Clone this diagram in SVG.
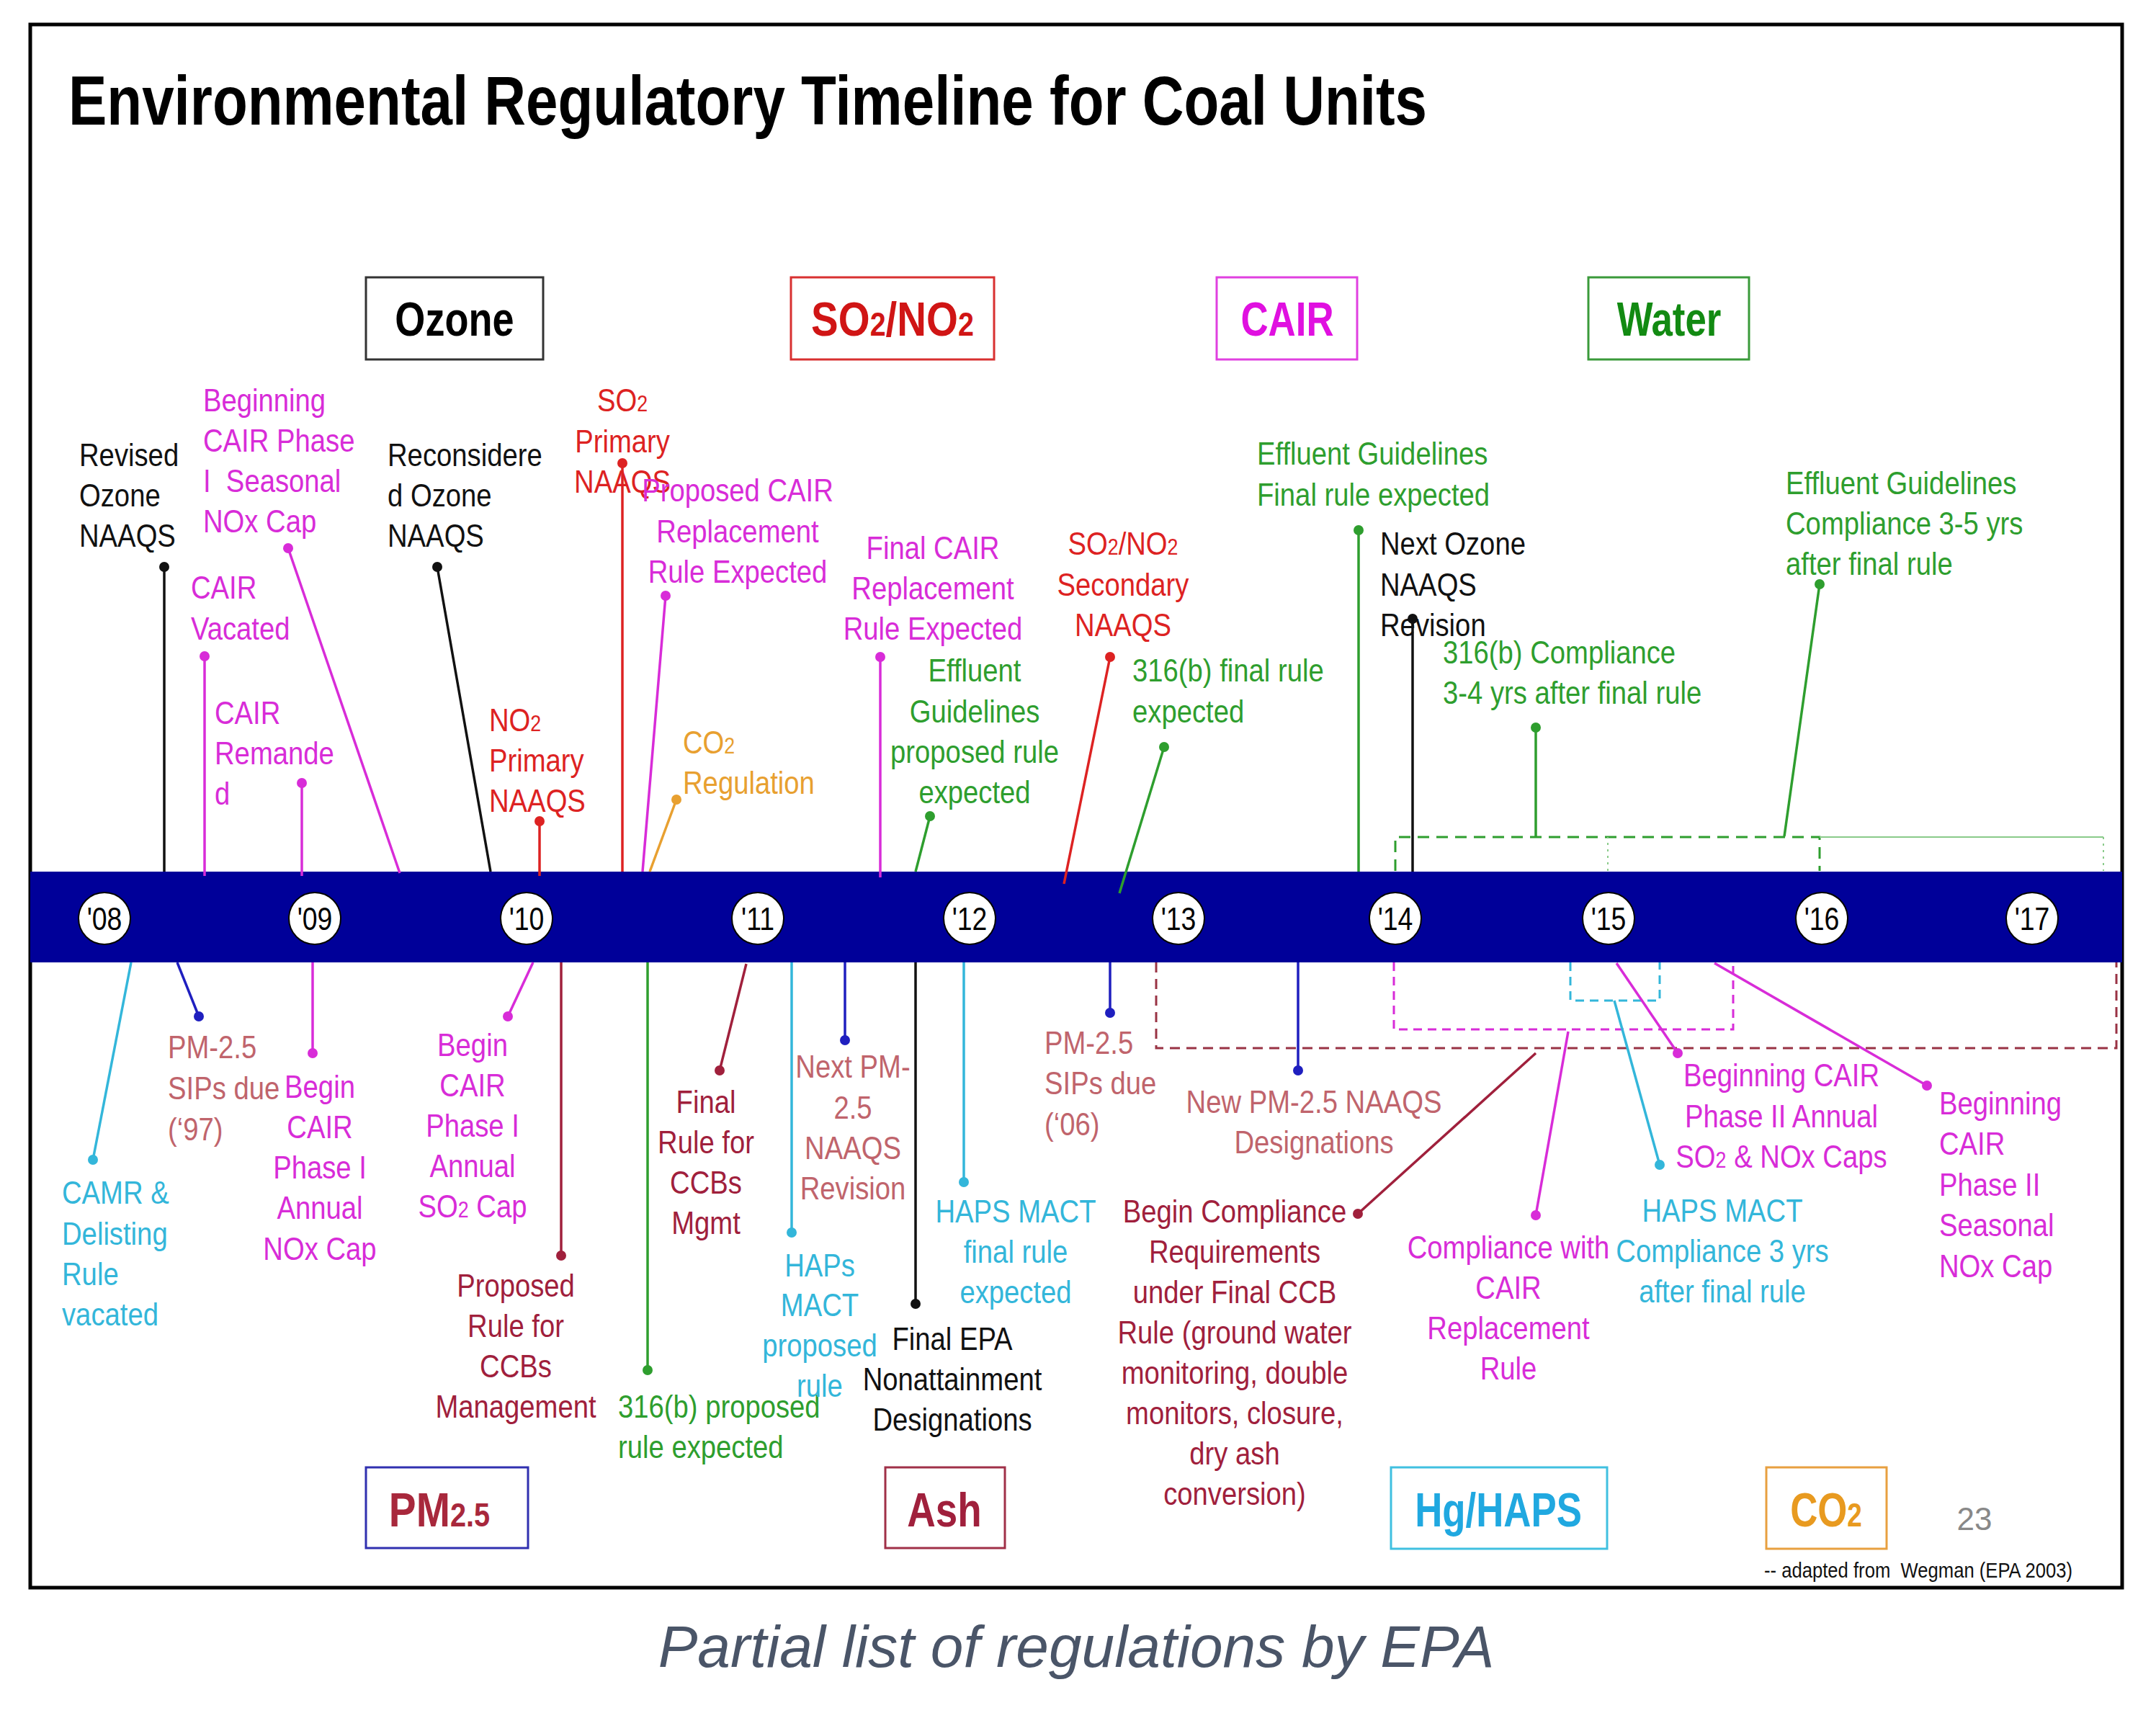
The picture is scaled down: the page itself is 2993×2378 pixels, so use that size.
<svg xmlns="http://www.w3.org/2000/svg" width="2993" height="2378" viewBox="0 0 2993 2378">
<style>
text{font-family:'Liberation Sans',Arial,sans-serif;font-size:45px}
.c{text-anchor:middle}
.k{fill:#111}.m{fill:#D82CD8}.r{fill:#DD2222}.g{fill:#2E9E2E}.o{fill:#E8A030}.cy{fill:#33B6DA}.mr{fill:#A0203C}.rs{fill:#C0646C}
.cat{font-weight:bold;font-size:66px;text-anchor:middle}
.yr{font-size:44px;text-anchor:middle;fill:#000}
.sub{font-size:70%}
#connectors path{fill:none;stroke-width:3.5}
.sk{stroke:#111}.sm{stroke:#D82CD8}.sr{stroke:#DD2222}.sg{stroke:#2E9E2E}.so{stroke:#E8A030}.scy{stroke:#33B6DA}.smr{stroke:#A0203C}.sb{stroke:#1F1FBF}
.box{fill:#fff;stroke-width:3}
</style>
<rect x="0" y="0" width="2993" height="2378" fill="#fff"/>
<rect x="42" y="34" width="2904" height="2170" fill="#fff" stroke="#000" stroke-width="5"/>
<text x="95" y="173" style="font-size:96px;font-weight:bold" textLength="1886" lengthAdjust="spacingAndGlyphs" fill="#000">Environmental Regulatory Timeline for Coal Units</text>

<g id="timeline">
<rect x="42" y="1210" width="2904" height="126" fill="#000099"/>
<g stroke="#000" stroke-width="2" fill="#fff">
<circle cx="145" cy="1275" r="36"/><circle cx="437" cy="1275" r="36"/><circle cx="731" cy="1275" r="36"/><circle cx="1052" cy="1275" r="36"/><circle cx="1346" cy="1275" r="36"/><circle cx="1636" cy="1275" r="36"/><circle cx="1937" cy="1275" r="36"/><circle cx="2233" cy="1275" r="36"/><circle cx="2529" cy="1275" r="36"/><circle cx="2821" cy="1275" r="36"/>
</g>
<text class="yr" transform="translate(145 0) scale(.85 1)" y="1291">'08</text>
<text class="yr" transform="translate(437 0) scale(.85 1)" y="1291">'09</text>
<text class="yr" transform="translate(731 0) scale(.85 1)" y="1291">'10</text>
<text class="yr" transform="translate(1052 0) scale(.85 1)" y="1291">'11</text>
<text class="yr" transform="translate(1346 0) scale(.85 1)" y="1291">'12</text>
<text class="yr" transform="translate(1636 0) scale(.85 1)" y="1291">'13</text>
<text class="yr" transform="translate(1937 0) scale(.85 1)" y="1291">'14</text>
<text class="yr" transform="translate(2233 0) scale(.85 1)" y="1291">'15</text>
<text class="yr" transform="translate(2529 0) scale(.85 1)" y="1291">'16</text>
<text class="yr" transform="translate(2821 0) scale(.85 1)" y="1291">'17</text>
</g>

<g id="categories">
<g id="cat-ozone"><rect class="box" x="508" y="385" width="246" height="114" stroke="#333"/><text class="cat" transform="translate(631 0) scale(.82 1)" x="0" y="466" fill="#000">Ozone</text></g>
<g id="cat-so2"><rect class="box" x="1098" y="385" width="282" height="114" stroke="#D83030"/><text class="cat" transform="translate(1239 0) scale(.855 1)" x="0" y="466" fill="#D01515">SO<tspan class="sub">2</tspan>/NO<tspan class="sub">2</tspan></text></g>
<g id="cat-cair"><rect class="box" x="1689" y="385" width="195" height="114" stroke="#E040E0"/><text class="cat" transform="translate(1787 0) scale(.8 1)" x="0" y="466" fill="#E010E0">CAIR</text></g>
<g id="cat-water"><rect class="box" x="2205" y="385" width="223" height="114" stroke="#3A9A3A"/><text class="cat" transform="translate(2317 0) scale(.8 1)" x="0" y="466" fill="#128A12">Water</text></g>
<g id="cat-pm"><rect class="box" x="508" y="2037" width="225" height="112" stroke="#3030B0"/><text class="cat" transform="translate(610 0) scale(.86 1)" x="0" y="2119" fill="#A8283C">PM<tspan class="sub">2.5</tspan></text></g>
<g id="cat-ash"><rect class="box" x="1229" y="2037" width="166" height="112" stroke="#A03048"/><text class="cat" transform="translate(1311 0) scale(.83 1)" x="0" y="2119" fill="#A0203C">Ash</text></g>
<g id="cat-hg"><rect class="box" x="1931" y="2037" width="300" height="113" stroke="#40C0E0"/><text class="cat" transform="translate(2080 0) scale(.8 1)" x="0" y="2119" fill="#20A8E0">Hg/HAPS</text></g>
<g id="cat-co2"><rect class="box" x="2452" y="2037" width="167" height="113" stroke="#E8A040"/><text class="cat" transform="translate(2535 0) scale(.8 1)" x="0" y="2119" fill="#E89A20">CO<tspan class="sub">2</tspan></text></g>
</g>

<g id="connectors">
<path class="sg" d="M1937,1209 V1162 H2526 V1209" stroke-dasharray="16 10" style="stroke-width:3"/>
<path d="M2526,1162 H2920" stroke="#8ACB8A" style="stroke-width:2"/>
<path d="M2232,1209 V1162 M2920,1162 V1209" stroke="#8ACB8A" style="stroke-width:2" stroke-dasharray="3 6"/>
<path d="M1605,1336 V1455 H2938 V1336" stroke="#993344" style="stroke-width:3" stroke-dasharray="14 9"/>
<path d="M1935,1336 V1429 H2406 V1336" class="sm" style="stroke-width:3" stroke-dasharray="12 8"/>
<path d="M2180,1336 V1389 H2304 V1336" class="scy" style="stroke-width:3" stroke-dasharray="12 8"/>
<path class="sk" d="M228,787 V1210"/>
<path class="sm" d="M400,761 L555,1212"/>
<path class="sm" d="M284,911 V1216"/>
<path class="sm" d="M419,1087 V1216"/>
<path class="sk" d="M607,787 L681,1210"/>
<path class="sr" d="M749,1140 V1216"/>
<path class="sr" d="M864,643 V1210"/>
<path class="sm" d="M924,827 L892,1210"/>
<path class="so" d="M939,1110 L902,1210"/>
<path class="sm" d="M1222,912 V1218"/>
<path class="sg" d="M1291,1133 L1271,1210"/>
<path class="sr" d="M1541,912 L1477,1227"/>
<path class="sg" d="M1616,1037 L1554,1240"/>
<path class="sg" d="M1886,736 V1210"/>
<path class="sk" d="M1961,859 V1210"/>
<path class="sg" d="M2132,1010 V1162"/>
<path class="sg" d="M2526,811 L2477,1161"/>
<path class="scy" d="M182,1336 L129,1610"/>
<path class="sb" d="M246,1336 L276,1411"/>
<path class="sm" d="M434,1336 V1462"/>
<path class="sm" d="M740,1336 L705,1411"/>
<path class="smr" d="M779,1336 V1743"/>
<path class="sg" d="M899,1336 V1902"/>
<path class="smr" d="M1036,1338 L999,1486"/>
<path class="scy" d="M1099,1336 V1711"/>
<path class="sb" d="M1173,1336 V1444"/>
<path class="sk" d="M1271,1336 V1810"/>
<path class="scy" d="M1338,1336 V1641"/>
<path class="sb" d="M1541,1336 V1406"/>
<path class="sb" d="M1802,1336 V1486"/>
<path class="smr" d="M1885,1685 L2132,1462"/>
<path class="sm" d="M2132,1687 L2177,1432"/>
<path class="scy" d="M2304,1617 L2241,1389"/>
<path class="sm" d="M2329,1462 L2244,1337"/>
<path class="sm" d="M2675,1507 L2380,1337"/>
</g>

<g id="n-revised-ozone"><text class="k" transform="translate(110 0) scale(.85 1)" y="647"><tspan x="0">Revised</tspan><tspan x="0" dy="56">Ozone</tspan><tspan x="0" dy="56">NAAQS</tspan></text><circle cx="228" cy="787" r="7" fill="#111"/></g>
<g id="n-cair-phase1-seasonal"><text class="m" transform="translate(282 0) scale(.85 1)" y="571"><tspan x="0">Beginning</tspan><tspan x="0" dy="56">CAIR Phase</tspan><tspan x="0" dy="56">I&#160; Seasonal</tspan><tspan x="0" dy="56">NOx Cap</tspan></text><circle cx="400" cy="761" r="7" fill="#D82CD8"/></g>
<g id="n-cair-vacated"><text class="m" transform="translate(265 0) scale(.85 1)" y="831"><tspan x="0">CAIR</tspan><tspan x="0" dy="57">Vacated</tspan></text><circle cx="284" cy="911" r="7" fill="#D82CD8"/></g>
<g id="n-cair-remanded"><text class="m" transform="translate(298 0) scale(.85 1)" y="1005"><tspan x="0">CAIR</tspan><tspan x="0" dy="56">Remande</tspan><tspan x="0" dy="56">d</tspan></text><circle cx="419" cy="1087" r="7" fill="#D82CD8"/></g>
<g id="n-reconsidered-ozone"><text class="k" transform="translate(538 0) scale(.85 1)" y="647"><tspan x="0">Reconsidere</tspan><tspan x="0" dy="56">d Ozone</tspan><tspan x="0" dy="56">NAAQS</tspan></text><circle cx="607" cy="787" r="7" fill="#111"/></g>
<g id="n-no2-primary"><text class="r" transform="translate(679 0) scale(.85 1)" y="1015"><tspan x="0">NO<tspan class="sub">2</tspan></tspan><tspan x="0" dy="56">Primary</tspan><tspan x="0" dy="56">NAAQS</tspan></text><circle cx="749" cy="1140" r="7" fill="#DD2222"/></g>
<g id="n-so2-primary"><text class="r c" transform="translate(864 0) scale(.85 1)" y="571"><tspan x="0">SO<tspan class="sub">2</tspan></tspan><tspan x="0" dy="57">Primary</tspan><tspan x="0" dy="56">NAAQS</tspan></text><circle cx="864" cy="643" r="7" fill="#DD2222"/></g>
<g id="n-proposed-cair"><text class="m c" transform="translate(1024 0) scale(.85 1)" y="696"><tspan x="0">Proposed CAIR</tspan><tspan x="0" dy="57">Replacement</tspan><tspan x="0" dy="56">Rule Expected</tspan></text><circle cx="924" cy="827" r="7" fill="#D82CD8"/></g>
<g id="n-co2-regulation"><text class="o" transform="translate(948 0) scale(.85 1)" y="1046"><tspan x="0">CO<tspan class="sub">2</tspan></tspan><tspan x="0" dy="56">Regulation</tspan></text><circle cx="939" cy="1110" r="7" fill="#E8A030"/></g>
<g id="n-final-cair"><text class="m c" transform="translate(1295 0) scale(.85 1)" y="776"><tspan x="0">Final CAIR</tspan><tspan x="0" dy="56">Replacement</tspan><tspan x="0" dy="56">Rule Expected</tspan></text><circle cx="1222" cy="912" r="7" fill="#D82CD8"/></g>
<g id="n-effluent-proposed"><text class="g c" transform="translate(1353 0) scale(.85 1)" y="946"><tspan x="0">Effluent</tspan><tspan x="0" dy="57">Guidelines</tspan><tspan x="0" dy="56">proposed rule</tspan><tspan x="0" dy="56">expected</tspan></text><circle cx="1291" cy="1133" r="7" fill="#2E9E2E"/></g>
<g id="n-so2no2-secondary"><text class="r c" transform="translate(1559 0) scale(.85 1)" y="770"><tspan x="0">SO<tspan class="sub">2</tspan>/NO<tspan class="sub">2</tspan></tspan><tspan x="0" dy="57">Secondary</tspan><tspan x="0" dy="56">NAAQS</tspan></text><circle cx="1541" cy="912" r="7" fill="#DD2222"/></g>
<g id="n-316b-final"><text class="g" transform="translate(1572 0) scale(.85 1)" y="946"><tspan x="0">316(b) final rule</tspan><tspan x="0" dy="57">expected</tspan></text><circle cx="1616" cy="1037" r="7" fill="#2E9E2E"/></g>
<g id="n-effluent-final"><text class="g" transform="translate(1745 0) scale(.85 1)" y="645"><tspan x="0">Effluent Guidelines</tspan><tspan x="0" dy="57">Final rule expected</tspan></text><circle cx="1886" cy="736" r="7" fill="#2E9E2E"/></g>
<g id="n-next-ozone"><text class="k" transform="translate(1916 0) scale(.85 1)" y="770"><tspan x="0">Next Ozone</tspan><tspan x="0" dy="57">NAAQS</tspan><tspan x="0" dy="56">Revision</tspan></text><circle cx="1961" cy="859" r="7" fill="#111"/></g>
<g id="n-316b-compliance"><text class="g" transform="translate(2003 0) scale(.85 1)" y="921"><tspan x="0">316(b) Compliance</tspan><tspan x="0" dy="56">3-4 yrs after final rule</tspan></text><circle cx="2132" cy="1010" r="7" fill="#2E9E2E"/></g>
<g id="n-effluent-compliance"><text class="g" transform="translate(2479 0) scale(.85 1)" y="686"><tspan x="0">Effluent Guidelines</tspan><tspan x="0" dy="56">Compliance 3-5 yrs</tspan><tspan x="0" dy="56">after final rule</tspan></text><circle cx="2526" cy="811" r="7" fill="#2E9E2E"/></g>

<g id="n-camr"><text class="cy" transform="translate(86 0) scale(.85 1)" y="1671"><tspan x="0">CAMR &amp;</tspan><tspan x="0" dy="57">Delisting</tspan><tspan x="0" dy="56">Rule</tspan><tspan x="0" dy="56">vacated</tspan></text><circle cx="129" cy="1610" r="7" fill="#33B6DA"/></g>
<g id="n-pm-sips-97"><text class="rs" transform="translate(233 0) scale(.85 1)" y="1469"><tspan x="0">PM-2.5</tspan><tspan x="0" dy="57">SIPs due</tspan><tspan x="0" dy="57">(‘97)</tspan></text><circle cx="276" cy="1411" r="7" fill="#1F1FBF"/></g>
<g id="n-cair-nox-annual"><text class="m c" transform="translate(444 0) scale(.85 1)" y="1524"><tspan x="0">Begin</tspan><tspan x="0" dy="56">CAIR</tspan><tspan x="0" dy="56">Phase I</tspan><tspan x="0" dy="56">Annual</tspan><tspan x="0" dy="57">NOx Cap</tspan></text><circle cx="434" cy="1462" r="7" fill="#D82CD8"/></g>
<g id="n-cair-so2-annual"><text class="m c" transform="translate(656 0) scale(.85 1)" y="1466"><tspan x="0">Begin</tspan><tspan x="0" dy="56">CAIR</tspan><tspan x="0" dy="56">Phase I</tspan><tspan x="0" dy="56">Annual</tspan><tspan x="0" dy="56">SO<tspan class="sub">2</tspan> Cap</tspan></text><circle cx="705" cy="1411" r="7" fill="#D82CD8"/></g>
<g id="n-proposed-ccb"><text class="mr c" transform="translate(716 0) scale(.85 1)" y="1800"><tspan x="0">Proposed</tspan><tspan x="0" dy="56">Rule for</tspan><tspan x="0" dy="56">CCBs</tspan><tspan x="0" dy="56">Management</tspan></text><circle cx="779" cy="1743" r="7" fill="#A0203C"/></g>
<g id="n-316b-proposed"><text class="g" transform="translate(858 0) scale(.85 1)" y="1968"><tspan x="0">316(b) proposed</tspan><tspan x="0" dy="56">rule expected</tspan></text><circle cx="899" cy="1902" r="7" fill="#2E9E2E"/></g>
<g id="n-final-ccb"><text class="mr c" transform="translate(980 0) scale(.85 1)" y="1545"><tspan x="0">Final</tspan><tspan x="0" dy="56">Rule for</tspan><tspan x="0" dy="56">CCBs</tspan><tspan x="0" dy="56">Mgmt</tspan></text><circle cx="999" cy="1486" r="7" fill="#A0203C"/></g>
<g id="n-haps-proposed"><text class="cy c" transform="translate(1138 0) scale(.85 1)" y="1772"><tspan x="0">HAPs</tspan><tspan x="0" dy="55">MACT</tspan><tspan x="0" dy="56">proposed</tspan><tspan x="0" dy="56">rule</tspan></text><circle cx="1099" cy="1711" r="7" fill="#33B6DA"/></g>
<g id="n-next-pm"><text class="rs c" transform="translate(1184 0) scale(.85 1)" y="1496"><tspan x="0">Next PM-</tspan><tspan x="0" dy="57">2.5</tspan><tspan x="0" dy="56">NAAQS</tspan><tspan x="0" dy="56">Revision</tspan></text><circle cx="1173" cy="1444" r="7" fill="#1F1FBF"/></g>
<g id="n-final-epa"><text class="k c" transform="translate(1322 0) scale(.85 1)" y="1874"><tspan x="0">Final EPA</tspan><tspan x="0" dy="56">Nonattainment</tspan><tspan x="0" dy="56">Designations</tspan></text><circle cx="1271" cy="1810" r="7" fill="#111"/></g>
<g id="n-haps-final"><text class="cy c" transform="translate(1410 0) scale(.85 1)" y="1697"><tspan x="0">HAPS MACT</tspan><tspan x="0" dy="56">final rule</tspan><tspan x="0" dy="56">expected</tspan></text><circle cx="1338" cy="1641" r="7" fill="#33B6DA"/></g>
<g id="n-pm-sips-06"><text class="rs" transform="translate(1450 0) scale(.85 1)" y="1463"><tspan x="0">PM-2.5</tspan><tspan x="0" dy="56">SIPs due</tspan><tspan x="0" dy="57">(‘06)</tspan></text><circle cx="1541" cy="1406" r="7" fill="#1F1FBF"/></g>
<g id="n-new-pm"><text class="rs c" transform="translate(1824 0) scale(.85 1)" y="1545"><tspan x="0">New PM-2.5 NAAQS</tspan><tspan x="0" dy="56">Designations</tspan></text><circle cx="1802" cy="1486" r="7" fill="#1F1FBF"/></g>
<g id="n-begin-compliance-ccb"><text class="mr c" transform="translate(1714 0) scale(.85 1)" y="1697"><tspan x="0">Begin Compliance</tspan><tspan x="0" dy="56">Requirements</tspan><tspan x="0" dy="56">under Final CCB</tspan><tspan x="0" dy="56">Rule (ground water</tspan><tspan x="0" dy="56">monitoring, double</tspan><tspan x="0" dy="56">monitors, closure,</tspan><tspan x="0" dy="56">dry ash</tspan><tspan x="0" dy="56">conversion)</tspan></text><circle cx="1885" cy="1685" r="7" fill="#A0203C"/></g>
<g id="n-compliance-cair"><text class="m c" transform="translate(2094 0) scale(.85 1)" y="1747"><tspan x="0">Compliance with</tspan><tspan x="0" dy="56">CAIR</tspan><tspan x="0" dy="56">Replacement</tspan><tspan x="0" dy="56">Rule</tspan></text><circle cx="2132" cy="1687" r="7" fill="#D82CD8"/></g>
<g id="n-haps-compliance"><text class="cy c" transform="translate(2391 0) scale(.85 1)" y="1696"><tspan x="0">HAPS MACT</tspan><tspan x="0" dy="56">Compliance 3 yrs</tspan><tspan x="0" dy="56">after final rule</tspan></text><circle cx="2304" cy="1617" r="7" fill="#33B6DA"/></g>
<g id="n-cair-phase2-annual"><text class="m c" transform="translate(2473 0) scale(.85 1)" y="1508"><tspan x="0">Beginning CAIR</tspan><tspan x="0" dy="57">Phase II Annual</tspan><tspan x="0" dy="56">SO<tspan class="sub">2</tspan> &amp; NOx Caps</tspan></text><circle cx="2329" cy="1462" r="7" fill="#D82CD8"/></g>
<g id="n-cair-phase2-seasonal"><text class="m" transform="translate(2692 0) scale(.85 1)" y="1547"><tspan x="0">Beginning</tspan><tspan x="0" dy="56">CAIR</tspan><tspan x="0" dy="57">Phase II</tspan><tspan x="0" dy="56">Seasonal</tspan><tspan x="0" dy="57">NOx Cap</tspan></text><circle cx="2675" cy="1507" r="7" fill="#D82CD8"/></g>

<text x="2741" y="2124" class="c" style="font-size:44px" fill="#888">23</text>
<text x="2449" y="2190" style="font-size:30px" textLength="428" lengthAdjust="spacingAndGlyphs" fill="#111">-- adapted from&#160; Wegman (EPA 2003)</text>
<text x="1494" y="2314" class="c" style="font-size:82px;font-style:italic" fill="#4A5568">Partial list of regulations by EPA</text>
</svg>
